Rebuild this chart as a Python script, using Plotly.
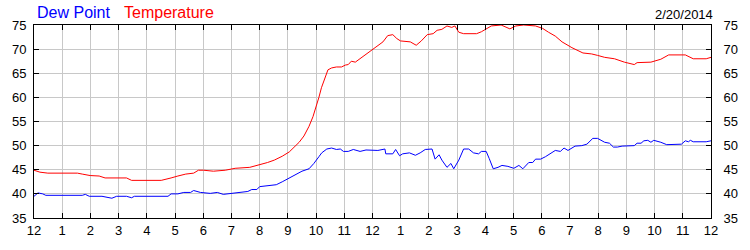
import plotly.graph_objects as go

# Hours since midnight (0 = 12 AM, 24 = next 12 AM)
temp_hours = [0.00, 0.21, 0.49, 1.54, 1.71, 1.99, 2.31, 2.52, 3.28, 3.46, 4.51, 4.68, 4.86, 5.10, 5.38,
              5.66, 5.83, 6.01, 6.36, 6.78, 7.13, 7.65, 8.00, 8.28, 8.52, 8.80, 9.05, 9.26, 9.40, 9.57,
              9.75, 9.89, 10.03, 10.10, 10.19, 10.31, 10.42, 10.55, 10.72, 10.90, 11.04, 11.14, 11.25,
              11.39, 11.56, 11.77, 12.09, 12.37, 12.54, 12.72, 12.86, 12.99, 13.34, 13.55, 13.73, 13.94,
              14.15, 14.29, 14.46, 14.64, 14.81, 14.92, 15.06, 15.23, 15.69, 15.86, 16.03, 16.21, 16.56,
              16.73, 16.87, 17.08, 17.36, 17.78, 18.03, 18.24, 18.48, 18.72, 19.07, 19.46, 19.77, 19.98,
              20.23, 20.58, 20.93, 21.28, 21.38, 21.87, 22.22, 22.50, 23.09, 23.37, 23.83, 24.00]
temperature = [44.9, 44.5, 44.3, 44.3, 44.1, 43.8, 43.7, 43.3, 43.3, 42.8, 42.8, 43.0, 43.3, 43.7, 44.1,
               44.3, 44.9, 44.9, 44.7, 44.9, 45.3, 45.5, 46.0, 46.5, 47.0, 47.8, 48.7, 49.8, 50.7, 52.0,
               54.0, 56.0, 58.5, 60.0, 62.0, 64.0, 65.7, 66.1, 66.3, 66.3, 66.7, 66.8, 67.5,
               67.3, 68.0, 68.8, 70.3, 71.5, 72.8, 73.0, 72.2, 71.7, 71.5, 70.8, 71.7, 73.0,
               73.2, 73.9, 74.1, 74.8, 74.5, 74.8, 73.5, 73.2, 73.2, 73.6, 74.2, 74.8, 75.0,
               74.5, 74.2, 74.8, 75.0, 74.8, 74.3, 73.5, 72.7, 71.5, 70.3, 69.2, 69.0, 68.7,
               68.3, 68.0, 67.3, 66.8, 67.2, 67.3, 67.9, 68.8, 68.8, 68.0, 68.0, 68.3]

dew_hours = [0.00, 0.14, 0.31, 0.42, 1.71, 1.82, 1.96, 2.41, 2.76, 2.93, 3.28, 3.46, 3.56, 4.75, 4.86,
             5.10, 5.31, 5.55, 5.66, 5.90, 6.25, 6.50, 6.71, 7.06, 7.30, 7.58, 7.72, 7.90, 8.00, 8.35,
             8.59, 8.80, 9.05, 9.29, 9.50, 9.75, 9.92, 10.10, 10.20, 10.38, 10.55, 10.72, 10.86, 10.97,
             11.14, 11.32, 11.56, 11.77, 12.02, 12.19, 12.44, 12.47, 12.72, 12.82, 12.96, 13.07, 13.31,
             13.52, 13.69, 13.87, 14.11, 14.22, 14.36, 14.46, 14.64, 14.78, 14.88, 15.06, 15.23, 15.41,
             15.58, 15.76, 15.86, 16.03, 16.14, 16.28, 16.45, 16.59, 16.80, 17.01, 17.19, 17.33, 17.54,
             17.68, 17.78, 17.96, 18.13, 18.31, 18.48, 18.66, 18.79, 18.93, 19.18, 19.42, 19.60, 19.81,
             19.98, 20.23, 20.40, 20.54, 20.68, 20.85, 21.28, 21.38, 21.52, 21.62, 21.76, 21.87, 21.97,
             22.22, 22.43, 22.95, 23.09, 23.20, 23.27, 23.37, 23.83, 24.00]
dew_point = [39.5, 40.2, 40.0, 39.7, 39.7, 39.9, 39.5, 39.5, 39.1, 39.5, 39.5, 39.2, 39.5, 39.5, 40.0,
             40.0, 40.3, 40.3, 40.7, 40.3, 40.1, 40.3, 39.9, 40.1, 40.3, 40.5, 40.9, 40.9, 41.5, 41.7,
             41.9, 42.5, 43.3, 44.0, 44.7, 45.2, 46.3, 47.7, 48.5, 49.3, 49.5, 49.2, 49.3, 48.8,
             48.8, 49.2, 48.8, 49.1, 49.0, 49.0, 49.3, 48.3, 48.3, 49.2, 47.9, 48.3, 48.5,
             48.0, 48.5, 49.2, 49.3, 47.2, 48.1, 47.0, 45.5, 46.3, 45.2, 47.0, 49.3, 49.3,
             48.5, 48.3, 48.8, 48.8, 47.3, 45.2, 45.5, 45.9, 45.7, 45.3, 45.9, 45.2, 46.5,
             46.5, 47.2, 47.2, 47.7, 48.3, 49.0, 48.8, 49.5, 49.0, 49.9, 50.0, 50.3, 51.5,
             51.5, 50.7, 50.5, 49.7, 49.7, 49.9, 50.0, 50.5, 50.5, 51.0, 51.1, 50.7, 51.1,
             50.7, 50.2, 50.3, 51.0, 50.8, 51.1, 50.8, 50.8, 51.0]

x_tickvals = list(range(25))
x_ticktext = ["12", "1", "2", "3", "4", "5", "6", "7", "8", "9", "10", "11",
              "12", "1", "2", "3", "4", "5", "6", "7", "8", "9", "10", "11", "12"]
y_tickvals = [35, 40, 45, 50, 55, 60, 65, 70, 75]
date_label = "2/20/2014"

FONT = "Liberation Sans, Arial, sans-serif"

fig = go.Figure()
fig.add_trace(go.Scatter(x=dew_hours, y=dew_point, mode="lines",
                         line=dict(color="#0000ff", width=1), hoverinfo="skip", showlegend=False))
fig.add_trace(go.Scatter(x=temp_hours, y=temperature, mode="lines",
                         line=dict(color="#ff0000", width=1), hoverinfo="skip", showlegend=False))
# invisible trace to activate the right-hand axis
fig.add_trace(go.Scatter(x=temp_hours, y=temperature, mode="lines", yaxis="y2",
                         line=dict(color="rgba(0,0,0,0)", width=0), hoverinfo="skip", showlegend=False))

axis_common = dict(showline=True, linecolor="black", linewidth=1, ticks="inside", ticklen=5,
                   tickcolor="black", tickwidth=1, zeroline=False,
                   tickfont=dict(family=FONT, size=13, color="black"))

fig.update_layout(
    width=750, height=250,
    margin=dict(l=31, r=32, t=25, b=25),
    paper_bgcolor="white", plot_bgcolor="white",
    xaxis=dict(range=[0, 24], tickvals=x_tickvals, ticktext=x_ticktext, mirror="ticks",
               showgrid=True, gridcolor="#c8c8c8", gridwidth=1, **axis_common),
    yaxis=dict(range=[35, 75], tickvals=y_tickvals, mirror=True,
               showgrid=True, gridcolor="#c8c8c8", gridwidth=1, ticklabelstandoff=4, **axis_common),
    yaxis2=dict(range=[35, 75], tickvals=y_tickvals, overlaying="y", side="right",
                showgrid=False, ticklabelstandoff=9, **axis_common),
    annotations=[
        dict(text="Dew Point", x=0, y=1, xref="paper", yref="paper", xanchor="left", yanchor="bottom",
             xshift=1, yshift=2, showarrow=False, font=dict(family=FONT, size=16, color="#0000ff")),
        dict(text="Temperature", x=0, y=1, xref="paper", yref="paper", xanchor="left", yanchor="bottom",
             xshift=88, yshift=2, showarrow=False, font=dict(family=FONT, size=16, color="#ff0000")),
        dict(text=date_label, x=1, y=1, xref="paper", yref="paper", xanchor="right", yanchor="bottom",
             xshift=4, yshift=1, showarrow=False, font=dict(family=FONT, size=13, color="black")),
    ],
)

fig.write_html("out.html")
